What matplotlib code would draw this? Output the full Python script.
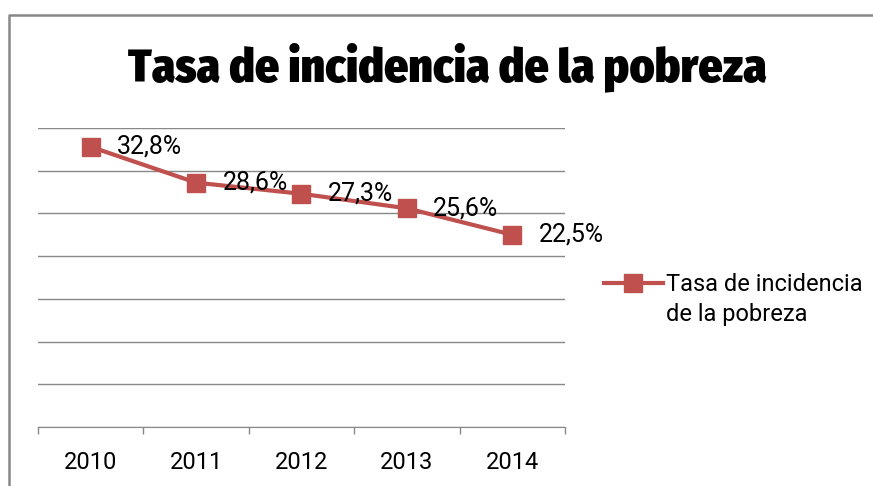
import matplotlib
matplotlib.use('Agg')
import matplotlib.pyplot as plt
from matplotlib.lines import Line2D

years = ['2010', '2011', '2012', '2013', '2014']
tasa = [32.8, 28.6, 27.3, 25.6, 22.5]
labels = ['32,8%', '28,6%', '27,3%', '25,6%', '22,5%']
serie = ['Tasa de incidencia', 'de la pobreza']

red = '#C0504D'
grey = '#888888'
txt_font = 'Roboto'

fig = plt.figure(figsize=(8.73, 4.86), dpi=100)
ax = fig.add_axes([38/873, 1-427/486, 527/873, 299/486])

x = range(len(years))
line, = ax.plot(x, tasa, color=red, lw=3, marker='s', ms=13)
for i, (v, t) in enumerate(zip(tasa, labels)):
    ax.annotate(t, (i, v), xytext=(19, 0), textcoords='offset points',
                va='center', ha='left', fontsize=18, family=txt_font)

ax.set_xlim(-0.5, 4.5)
ax.set_ylim(0, 35)
ax.set_yticks(range(0, 36, 5))
ax.yaxis.grid(True, color=grey, lw=1)
ax.set_axisbelow(True)
ax.tick_params(axis='y', left=False, labelleft=False)
ax.set_xticks(x)
ax.set_xticklabels(years, fontsize=17, family=txt_font)
ax.set_xticks([i - 0.5 for i in range(len(years) + 1)], minor=True)
ax.tick_params(axis='x', which='major', length=0, pad=17)
ax.tick_params(axis='x', which='minor', length=5, color=grey, width=1, direction='out')
for s in ['top', 'right', 'left']:
    ax.spines[s].set_visible(False)
ax.spines['bottom'].set_color(grey)

fig.text(0.512, 1-67/486, 'Tasa de incidencia de la pobreza', ha='center', va='center',
         fontsize=34, fontweight='black',
         family=['Fira Sans Condensed', 'Roboto Condensed', 'Archivo Narrow', 'DejaVu Sans'])

# legend: series name wraps onto a second line, handle stays on the first
blank = Line2D([], [], alpha=0)
leg = ax.legend([line, blank], serie, loc='upper left',
                bbox_to_anchor=(592/873, 1-261/486),
                bbox_transform=fig.transFigure, frameon=False,
                prop={'family': txt_font, 'size': 17}, handlelength=2.5,
                handletextpad=0.15, borderpad=0, labelspacing=0.3)

# chart border (left and top only visible)
fig.add_artist(Line2D([9/873, 9/873, 1], [0, 1-15/486, 1-15/486],
                      transform=fig.transFigure, color=grey, lw=1.8))

fig.savefig('out.png', dpi=100)
